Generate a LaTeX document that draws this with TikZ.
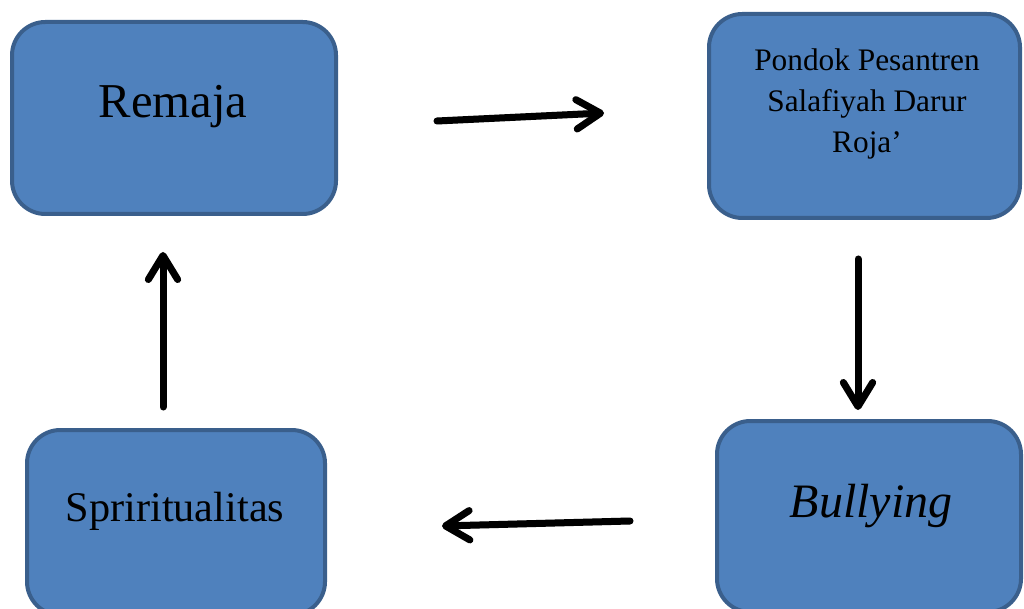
\documentclass[tikz,border=0pt]{standalone}
\usepackage{fontspec}
\setmainfont{Liberation Serif}
\usetikzlibrary{arrows.meta}
\definecolor{boxfill}{HTML}{4F81BD}
\definecolor{boxline}{HTML}{3A5F8C}
\tikzset{
  box/.style={draw=boxline, fill=boxfill, line width=3pt, rounded corners=25pt, inner sep=0pt},
  bigtxt/.style={anchor=base, inner sep=0pt},
  flow/.style={line width=5.25pt, line cap=round, -{Straight Barb[length=18pt,width=22pt,line cap=round,line join=round]}},
  flowshadow/.style={flow, draw=black!25, opacity=0.5, shift={(2,3)}}
}
\begin{document}
\begin{tikzpicture}[x=0.75pt,y=-0.75pt]
\useasboundingbox (0,0) rectangle (1024,609);
\node[box, minimum width=243pt, minimum height=144pt] (remaja) at (174,118) {};
\node[box, minimum width=233.25pt, minimum height=153pt] (pondok) at (864.5,116) {};
\node[box, minimum width=228pt, minimum height=143.25pt] (bullying) at (869,516.5) {};
\node[box, minimum width=223.5pt, minimum height=138.75pt] (spirit) at (176,522.5) {};
\node[bigtxt, font=\fontsize{36.5}{40}\selectfont] (tremaja) at (173,118) {Remaja};
\node[font=\fontsize{23.5}{31}\selectfont, align=center, inner sep=0pt] (tpondok) at (867,104) {Pondok Pesantren\\Salafiyah Darur\\Roja’};
\node[bigtxt, font=\fontsize{36}{40}\selectfont\itshape] (tbully) at (871,517) {Bullying};
\node[bigtxt, font=\fontsize{31.7}{40}\selectfont] (tspirit) at (175,521) {Spriritualitas};
\coordinate (a1s) at (437,121);
\coordinate (a1e) at (604,113);
\coordinate (a2s) at (858,259);
\coordinate (a2e) at (858,410);
\coordinate (a3s) at (630,521);
\coordinate (a3e) at (442,526);
\coordinate (a4s) at (163,407);
\coordinate (a4e) at (163,252);
\draw[flowshadow] (a1s) -- (a1e);
\draw[flowshadow] (a2s) -- (a2e);
\draw[flowshadow] (a3s) -- (a3e);
\draw[flowshadow] (a4s) -- (a4e);
\draw[flow] (a1s) -- (a1e);
\draw[flow] (a2s) -- (a2e);
\draw[flow] (a3s) -- (a3e);
\draw[flow] (a4s) -- (a4e);
\end{tikzpicture}
\end{document}
